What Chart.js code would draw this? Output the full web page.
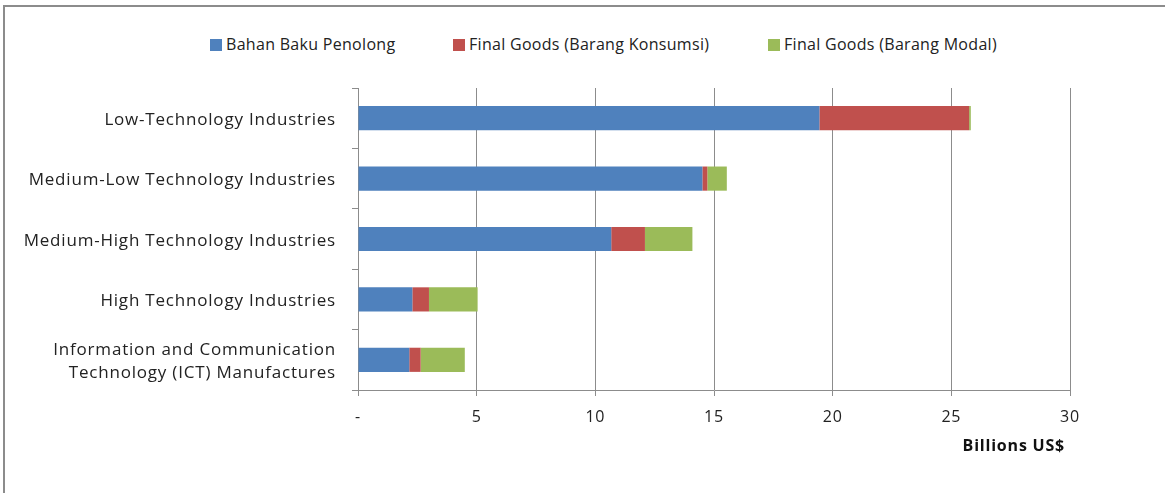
<!DOCTYPE html>
<html>
<head>
<meta charset="utf-8">
<script src="https://cdn.jsdelivr.net/npm/chart.js@4.4.1/dist/chart.umd.min.js"></script>
<style>
  html, body { margin: 0; padding: 0; background: #fff; }
  #wrap { position: relative; width: 1165px; height: 493px; overflow: hidden; }
  #frame { position: absolute; left: 3px; top: 5px; width: 1200px; height: 520px;
           border-left: 2px solid #8c8c8c; border-top: 2px solid #8c8c8c; }
  #legend { position: absolute; top: 34px; left: 0; width: 1165px; height: 20px;
            font-family: "Open Sans", Lato, sans-serif; font-size: 16px; letter-spacing: 0.3px; color: #222; }
  #legend .item { position: absolute; top: 0; white-space: nowrap; line-height: 20px; }
  #legend .box { display: inline-block; width: 12px; height: 12px; margin-right: 4px; vertical-align: -1px; }
  canvas { position: absolute; left: 0; top: 0; }
</style>
</head>
<body>
<div id="wrap">
  <div id="frame"></div>
  <div id="legend"></div>
  <canvas id="chart" width="1165" height="493"></canvas>
</div>
<script>
  const categories = [
    'Low-Technology Industries',
    'Medium-Low Technology Industries',
    'Medium-High Technology Industries',
    'High Technology Industries',
    ['Information and Communication', 'Technology (ICT) Manufactures']
  ];
  const seriesNames = ['Bahan Baku Penolong', 'Final Goods (Barang Konsumsi)', 'Final Goods (Barang Modal)'];
  const bahanBaku = [19.44, 14.51, 10.67, 2.29, 2.16];
  const konsumsi = [6.31, 0.21, 1.42, 0.70, 0.48];
  const modal = [0.07, 0.82, 2.00, 2.05, 1.86];
  const xTicks = [0, 5, 10, 15, 20, 25, 30];

  const colors = ['#4F81BD', '#C0504D', '#9BBB59'];
  const legendLeft = [210, 453, 768];
  const font = '"Open Sans", Lato, sans-serif';

  // legend above the plot
  const legend = document.getElementById('legend');
  seriesNames.forEach((name, i) => {
    const el = document.createElement('span');
    el.className = 'item';
    el.style.left = legendLeft[i] + 'px';
    el.innerHTML = `<span class="box" style="background:${colors[i]}"></span>${name}`;
    legend.appendChild(el);
  });

  const values = [bahanBaku, konsumsi, modal];

  // spread the axis text out a little
  const spacing = {
    id: 'spacing',
    beforeDraw: chart => { chart.ctx.letterSpacing = '0.8px'; }
  };

  new Chart(document.getElementById('chart'), {
    type: 'bar',
    data: {
      labels: categories,
      datasets: seriesNames.map((name, i) => ({
        label: name,
        data: values[i],
        backgroundColor: colors[i],
        borderWidth: 0,
        categoryPercentage: 0.8,
        barPercentage: 0.5
      }))
    },
    options: {
      indexAxis: 'y',
      responsive: false,
      animation: false,
      layout: { padding: { top: 88, right: 95, bottom: 0, left: 0 } },
      plugins: {
        legend: { display: false },
        tooltip: { enabled: false }
      },
      scales: {
        x: {
          stacked: true,
          min: 0,
          max: 30,
          afterBuildTicks: axis => { axis.ticks = xTicks.map(v => ({ value: v })); },
          afterFit: axis => { axis.height = 103; },
          grid: { color: '#8c8c8c', lineWidth: 1, tickLength: 6 },
          border: { color: '#8c8c8c' },
          ticks: {
            color: '#222',
            padding: 12,
            font: { family: font, size: 16 },
            callback: v => v === 0 ? '-' : v
          },
          title: {
            display: true,
            text: 'Billions US$ ',
            align: 'end',
            color: '#111',
            font: { family: font, size: 16, weight: 'bold' },
            padding: { top: 10, bottom: 37 }
          }
        },
        y: {
          stacked: true,
          afterFit: axis => { axis.width = 358; },
          grid: { drawOnChartArea: false, offset: true, color: '#8c8c8c', tickLength: 6 },
          border: { color: '#8c8c8c' },
          ticks: {
            color: '#222',
            padding: 16,
            labelOffset: 2,
            font: { family: font, size: 17, lineHeight: 1.35 }
          }
        }
      }
    },
    plugins: [spacing]
  });
</script>
</body>
</html>
